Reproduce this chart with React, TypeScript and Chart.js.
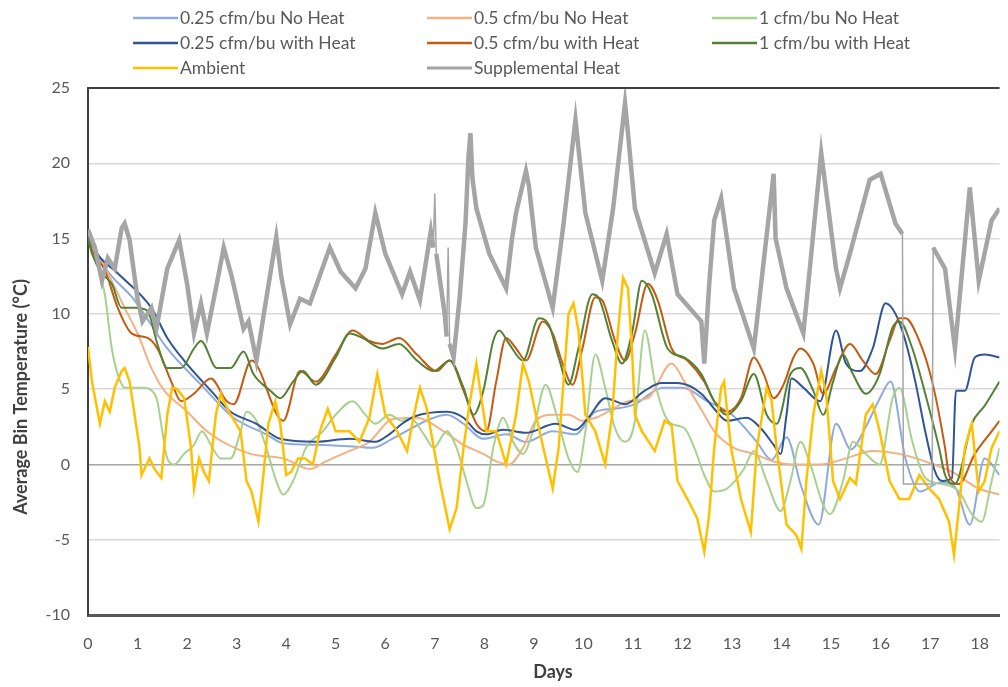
import React, { useEffect, useRef } from 'react';
import { Chart, registerables } from 'chart.js';

Chart.register(...registerables);

type P = [number, number];

const FONT = 'Lato';

const xTickMax = 18.4;
const yMin = -10;
const yMax = 25;

const xTitle = 'Days';
const yTitle = 'Average Bin Temperature (°C)';

const labels = [
  '0.25 cfm/bu No Heat',
  '0.5 cfm/bu No Heat',
  '1 cfm/bu No Heat',
  '0.25 cfm/bu with Heat',
  '0.5 cfm/bu with Heat',
  '1 cfm/bu with Heat',
  'Ambient',
  'Supplemental Heat',
];

const colors = ['#8FAADC', '#F4B183', '#A9D18E', '#2F5597', '#C55A11', '#548235', '#FFC000', '#A5A5A5'];

const noHeat025: P[] = [
  [0, 15.3], [0.34, 13.1], [0.94, 10.9], [1.6, 7.7], [2.28, 5.3], [2.94, 3.1], [3.6, 2], [3.94, 1.4],
  [4.6, 1.3], [5.28, 1.2], [5.74, 1.1], [6.14, 1.7], [6.9, 3], [7.24, 3.3], [7.58, 2.7], [7.98, 1.7],
  [8.44, 2], [8.84, 1.5], [9.38, 2.2], [9.84, 2], [10.24, 3.5], [10.64, 3.7], [11.04, 4], [11.44, 4.9],
  [11.6, 5.1], [12.0, 5.1], [12.5, 4.2], [13.0, 3.3], [13.5, 1.5], [13.8, 0.3], [14.1, 1.8], [14.4, -1.5],
  [14.75, -4], [15.1, 2.7], [15.4, 1], [15.7, 2.5], [16.0, 4.5], [16.2, 5.5], [16.5, 0.4], [16.8, -1.8],
  [17.2, -1.2], [17.5, -1.5], [17.8, -4], [18.1, 0.4], [18.4, -0.7],
];

const noHeat05: P[] = [
  [0, 15], [0.34, 13.1], [0.74, 10.4], [1.0, 8.7], [1.28, 6.4], [1.54, 4.9], [1.94, 3.7], [2.48, 2],
  [3.28, 0.7], [3.94, 0.4], [4.48, -0.3], [4.8, 0.2], [5.28, 0.9], [5.68, 1.5], [6.14, 3.0], [6.64, 3.1],
  [7.18, 2.2], [7.58, 1.3], [7.98, 0.7], [8.24, 0.2], [8.5, 0], [8.78, 1.1], [9.04, 2.9], [9.38, 3.3],
  [9.7, 3.3], [9.98, 2.9], [10.24, 3.1], [10.5, 3.5], [10.9, 4.2], [11.3, 4.4], [11.78, 6.7], [12.04, 5.5],
  [12.44, 3.3], [12.64, 2.2], [13.04, 1.1], [13.44, 0.7], [13.84, 0.2], [14.24, 0], [14.78, 0], [15.3, 0.4],
  [15.84, 0.9], [16.38, 0.7], [16.9, 0.2], [17.44, -0.5], [17.98, -1.6], [18.4, -2],
];

const noHeat1: P[] = [
  [0, 15], [0.14, 14], [0.34, 11.3], [0.48, 7.7], [0.6, 6], [0.74, 5.1], [1.14, 5.1], [1.34, 4.7],
  [1.4, 4.2], [1.5, 2.2], [1.6, 0.4], [1.74, 0], [1.94, 0.7], [2.14, 1.3], [2.3, 2.2], [2.48, 1.3],
  [2.68, 0.4], [2.88, 0.4], [3.08, 2.2], [3.2, 3.5], [3.4, 2.9], [3.6, 1.1], [3.8, -1.1], [3.94, -2],
  [4.14, -1.1], [4.4, 1.1], [4.74, 2.2], [5.0, 3.3], [5.34, 4.2], [5.6, 3.3], [5.8, 2.7], [6.08, 3.3],
  [6.34, 2.9], [6.5, 3.1], [6.78, 2], [6.98, 1.1], [7.24, 2.2], [7.44, 1.1], [7.64, -1.1], [7.84, -2.9],
  [7.98, -2.7], [8.18, 1.1], [8.38, 3.1], [8.58, 1.5], [8.78, 0.7], [8.98, 2.2], [9.24, 5.3], [9.44, 3.5],
  [9.7, 0.4], [9.88, -0.5], [10.04, 2.2], [10.24, 7.3], [10.44, 5.1], [10.64, 2.4], [10.84, 1.5], [11.04, 2.9],
  [11.24, 8.9], [11.44, 5.5], [11.64, 3.3], [11.78, 2.7], [12.04, 2.4], [12.24, 1.1], [12.44, -0.7], [12.64, -1.8],
  [12.9, -1.6], [13.24, -0.3], [13.44, 0.9], [13.7, -1.1], [13.98, -3.1], [14.18, -1.1], [14.38, 1.5], [14.58, 0],
  [14.84, -2.7], [14.98, -3.3], [15.24, -1.1], [15.44, 1.5], [15.7, 0.7], [15.98, 0], [16.24, 4.4], [16.38, 5.1],
  [16.64, 1.5], [16.9, -0.9], [17.24, -1.3], [17.58, -1.8], [17.84, -3.3], [18.04, -3.8], [18.24, -1.1], [18.4, 1.1],
];

const heat025: P[] = [
  [0, 15.3], [0.14, 14.2], [0.6, 12.7], [1.28, 10.4], [1.6, 8.4], [1.94, 6.9], [2.48, 4.9], [2.88, 3.5],
  [3.4, 2.7], [3.88, 1.7], [4.6, 1.5], [5.28, 1.7], [5.8, 1.5], [6.08, 2], [6.34, 2.7], [6.6, 3.2],
  [7.24, 3.5], [7.58, 3.1], [7.84, 2.2], [8.04, 2], [8.38, 2.3], [8.84, 2.1], [9.44, 2.7], [9.84, 2.3],
  [10.1, 3.1], [10.44, 4.4], [10.84, 4], [11.24, 4.9], [11.58, 5.4], [11.9, 5.4], [12.38, 4.7], [12.64, 3.7],
  [12.9, 2.9], [13.3, 3.1], [13.58, 2.4], [13.84, 1.3], [13.98, 0.7], [14.1, 3.3], [14.2, 5.7], [14.44, 5.1],
  [14.78, 4.2], [15.1, 8.9], [15.3, 6.7], [15.58, 6.2], [15.84, 7.7], [16.1, 10.7], [16.3, 10], [16.5, 8.2],
  [16.7, 5.5], [16.9, 2.2], [17.1, -0.5], [17.24, -1.1], [17.44, -0.9], [17.52, 4.9], [17.7, 4.9], [17.9, 7.1],
  [18.1, 7.3], [18.4, 7.1],
];

const heat05: P[] = [
  [0, 15], [0.08, 14.2], [0.34, 12.9], [0.6, 10.4], [0.88, 8.7], [1.2, 8.4], [1.4, 7.7], [1.68, 5.5],
  [1.88, 4.2], [2.14, 4.7], [2.48, 5.7], [2.8, 4.2], [2.94, 4], [3.3, 6.9], [3.94, 2.9], [4.28, 6.2],
  [4.6, 5.5], [5.0, 7.3], [5.34, 8.9], [5.68, 8.2], [5.94, 8], [6.28, 8.4], [6.64, 7.3], [7.04, 6.2],
  [7.3, 6.9], [7.58, 4.9], [7.84, 2.7], [8.04, 2.2], [8.24, 5.5], [8.44, 8.4], [8.64, 7.7], [8.84, 6.9],
  [9.18, 9.5], [9.38, 8.7], [9.58, 6.7], [9.78, 5.3], [9.98, 7.7], [10.24, 11.1], [10.38, 10.9], [10.64, 8.2],
  [10.84, 6.9], [11.04, 8.7], [11.3, 12], [11.5, 10.9], [11.78, 7.7], [12.1, 6.9], [12.44, 5.5], [12.64, 4.2],
  [12.9, 3.5], [13.18, 4.4], [13.44, 7.1], [13.64, 6], [13.84, 4.4], [14.04, 5.3], [14.24, 7.1], [14.38, 7.7],
  [14.64, 6.7], [14.84, 4.7], [15.1, 6.4], [15.38, 8], [15.64, 6.9], [15.9, 6], [16.18, 8.2], [16.38, 9.7],
  [16.5, 9.7], [16.78, 8.2], [17.04, 5.5], [17.3, 1.1], [17.38, -0.7], [17.58, -1.3], [17.9, 0.7], [18.24, 2.2],
  [18.4, 2.9],
];

const heat1: P[] = [
  [0, 15], [0.08, 14], [0.28, 12.7], [0.48, 12], [0.68, 10.4], [0.94, 10.4], [1.2, 10.2], [1.4, 8],
  [1.6, 6.4], [1.88, 6.4], [2.14, 7.7], [2.28, 8.2], [2.6, 6.4], [2.88, 6.4], [3.14, 7.5], [3.34, 6],
  [3.68, 4.9], [3.88, 4.4], [4.14, 5.5], [4.34, 6.2], [4.6, 5.3], [5.0, 7.1], [5.28, 8.7], [5.54, 8.4],
  [5.94, 7.7], [6.28, 8], [6.64, 6.9], [6.98, 6.2], [7.3, 6.9], [7.58, 5.1], [7.78, 3.3], [7.98, 4.9],
  [8.18, 8.2], [8.3, 8.9], [8.5, 8], [8.78, 6.9], [9.1, 9.7], [9.3, 9.3], [9.5, 7.1], [9.7, 5.3],
  [9.9, 7.7], [10.18, 11.3], [10.3, 11.1], [10.58, 8.2], [10.78, 6.7], [10.98, 8.7], [11.18, 12.2], [11.38, 11.3],
  [11.7, 7.7], [12.04, 7.1], [12.38, 6], [12.64, 4.2], [12.9, 3.3], [13.18, 4.2], [13.44, 6], [13.7, 3.3],
  [13.9, 2.7], [14.18, 6], [14.38, 6.4], [14.64, 4.9], [14.84, 3.3], [15.04, 5.5], [15.24, 7.3], [15.44, 6],
  [15.7, 4.7], [15.98, 6], [16.24, 9.1], [16.38, 9.5], [16.64, 7.7], [16.9, 4.7], [17.18, 1.1], [17.3, -0.7],
  [17.5, -1.3], [17.84, 2.7], [18.1, 3.9], [18.4, 5.5],
];

const ambient: P[] = [
  [0, 7.8], [0.08, 5.5], [0.24, 2.7], [0.34, 4.2], [0.44, 3.5], [0.54, 5.1], [0.68, 6.2], [0.74, 6.4],
  [0.84, 5.5], [0.94, 3.3], [1.04, 1.1], [1.08, -0.7], [1.24, 0.4], [1.34, -0.3], [1.48, -0.9], [1.6, 3.3],
  [1.7, 5.1], [1.8, 5.0], [1.94, 4.4], [2.08, 1.1], [2.14, -1.6], [2.24, 0.4], [2.34, -0.5], [2.44, -1.1],
  [2.58, 3.3], [2.68, 4.7], [2.74, 4.2], [2.88, 3.3], [3.08, 2.2], [3.2, -1.1], [3.3, -1.8], [3.44, -3.8],
  [3.54, -0.7], [3.64, 2.7], [3.78, 4.2], [3.88, 2.7], [4.0, -0.7], [4.1, -0.5], [4.24, 0.4], [4.38, 0.4],
  [4.54, 0], [4.68, 2.2], [4.84, 3.7], [5.0, 2.2], [5.28, 2.2], [5.48, 1.5], [5.68, 3.1], [5.8, 5.3],
  [5.84, 6], [6.0, 3.3], [6.2, 2.4], [6.24, 2.2], [6.44, 0.9], [6.58, 3.3], [6.7, 5.1], [6.84, 3.7],
  [7.1, -1.1], [7.3, -4.3], [7.44, -2.9], [7.58, 1.1], [7.7, 4], [7.84, 6.7], [7.94, 4.4], [8.04, 2.2],
  [8.24, 2.2], [8.44, 0], [8.64, 3.3], [8.78, 6.7], [8.9, 5.5], [9.04, 3.3], [9.24, 0.4], [9.38, -1.6],
  [9.5, 1.1], [9.7, 10], [9.8, 10.7], [9.9, 8.9], [10.04, 3.3], [10.24, 2.2], [10.44, 0], [10.58, 3.3],
  [10.7, 8.9], [10.8, 12.4], [10.9, 11.7], [10.98, 7.7], [11.04, 3.3], [11.18, 2.2], [11.44, 0.9], [11.64, 2.9],
  [11.78, 2.6], [11.9, -1.1], [12.1, -2.3], [12.3, -3.6], [12.44, -5.8], [12.54, -3.3], [12.64, 1.1], [12.78, 5.1],
  [12.84, 5.5], [12.98, 1.1], [13.18, -2.3], [13.38, -4.5], [13.5, 1.1], [13.7, 5.1], [13.8, 4.2], [13.9, 1.1],
  [14.1, -4], [14.3, -4.7], [14.4, -5.6], [14.5, -1.1], [14.64, 3.3], [14.8, 6.2], [14.9, 4.7], [15.04, -1.1],
  [15.18, -2.3], [15.38, -0.9], [15.5, -1.3], [15.7, 3.3], [15.84, 4], [15.98, 2.2], [16.18, -1.1], [16.38, -2.3],
  [16.58, -2.3], [16.78, -0.7], [16.98, -1.6], [17.18, -2.3], [17.38, -3.8], [17.48, -6], [17.58, -2.9], [17.7, 1.1],
  [17.84, 2.7], [17.98, -1.8], [18.1, -1.1], [18.24, 1.1], [18.4, 2.2],
];

const supplemental: P[] = [
  [0, 15.6], [0.14, 14.4], [0.28, 12.2], [0.4, 13.7], [0.54, 13], [0.68, 15.7], [0.74, 16], [0.84, 14.9],
  [1.0, 11], [1.1, 9.5], [1.28, 10.4], [1.38, 9], [1.6, 13], [1.84, 14.9], [2.0, 12], [2.14, 8.7],
  [2.28, 10.7], [2.4, 8.7], [2.6, 12], [2.74, 14.4], [2.9, 12.5], [3.14, 9], [3.24, 9.5], [3.4, 6.9],
  [3.54, 9.8], [3.8, 15.1], [3.9, 12.5], [4.08, 9.3], [4.28, 11], [4.48, 10.7], [4.88, 14.4], [5.1, 12.8],
  [5.4, 11.7], [5.6, 13], [5.8, 16.7], [6.0, 14], [6.34, 11.3], [6.5, 12.8], [6.7, 10.9], [6.92, 15.5],
  [6.97, 14.4], [7.0, 18], [7.03, 14], [7.2, 10], [7.24, 8.5], [7.27, 14.4], [7.3, 8], [7.38, 7.1],
  [7.5, 11], [7.62, 16], [7.68, 20.4], [7.72, 22], [7.76, 19], [7.84, 17], [8.1, 14], [8.44, 11.7],
  [8.56, 15], [8.64, 16.7], [8.84, 19.5], [8.9, 18.5], [9.04, 14.4], [9.38, 10.4], [9.6, 16], [9.84, 22.9],
  [9.9, 21], [10.04, 16.7], [10.38, 12.2], [10.6, 17], [10.84, 24], [10.9, 22], [11.04, 17], [11.44, 12.7],
  [11.68, 15.3], [11.9, 11.3], [12.38, 9.5], [12.44, 6.7], [12.54, 12], [12.64, 16.2], [12.78, 17.7], [13.04, 11.7],
  [13.44, 7.7], [13.84, 19.3], [13.88, 15], [14.1, 11.7], [14.44, 8.7], [14.6, 14], [14.8, 20.7], [15.1, 13],
  [15.18, 11.7], [15.38, 14], [15.78, 18.9], [16.0, 19.3], [16.3, 16], [16.44, 15.3], [16.46, -1.3], [17.04, -1.3],
  [17.06, 14.4], [17.3, 13], [17.5, 7.7], [17.8, 18.4], [17.98, 12.2], [18.24, 16.2], [18.4, 17],
];

// day ranges in which the supplemental heat trace is a single thin sample line
const thinSupplementalSpans: P[] = [[6.96, 7.04], [7.23, 7.31], [16.43, 17.07]];

const seriesData: P[][] = [noHeat025, noHeat05, noHeat1, heat025, heat05, heat1, ambient, supplemental];

const decorPlugin = {
  id: 'frameLegend',
  afterDraw(chart: any) {
    const { ctx, chartArea } = chart;
    ctx.save();
    ctx.strokeStyle = '#404040';
    ctx.lineWidth = 2;
    ctx.beginPath();
    ctx.moveTo(chartArea.left, chartArea.top);
    ctx.lineTo(chartArea.right, chartArea.top);
    ctx.stroke();

    ctx.fillStyle = '#404040';
    ctx.font = `bold 18px ${FONT}`;
    ctx.textAlign = 'center';
    ctx.textBaseline = 'middle';
    ctx.fillText(xTitle, 553, 672);
    ctx.save();
    ctx.translate(21, 397);
    ctx.rotate(-Math.PI / 2);
    ctx.fillText(yTitle, 0, 0);
    ctx.restore();

    const cols = [133, 427, 712];
    const rows = [18, 43, 68];
    ctx.font = `17.5px ${FONT}`;
    ctx.textBaseline = 'middle';
    ctx.textAlign = 'left';
    labels.forEach((lab, i) => {
      const cx = cols[i % 3];
      const cy = rows[Math.floor(i / 3)];
      ctx.strokeStyle = colors[i];
      ctx.lineWidth = i === 7 ? 3 : 2.5;
      ctx.beginPath();
      ctx.moveTo(cx, cy);
      ctx.lineTo(cx + 45, cy);
      ctx.stroke();
      ctx.fillStyle = '#595959';
      ctx.fillText(lab, cx + 47, cy);
    });
    ctx.restore();
  },
};

export default function App() {
  const ref = useRef<HTMLCanvasElement>(null);
  useEffect(() => {
    const drawOrder = [7, 6, 5, 4, 3, 2, 1, 0];
    const datasets = seriesData.map((arr, i) => {
      const smooth = i < 6;
      const isSupp = i === 7;
      const baseWidth = isSupp ? 4.5 : i === 6 ? 2.5 : 2;
      return {
        label: labels[i],
        data: arr.map(([x, y]) => ({ x, y })),
        borderColor: colors[i],
        backgroundColor: colors[i],
        borderWidth: baseWidth,
        pointRadius: 0,
        fill: false,
        tension: smooth ? 0.4 : 0,
        cubicInterpolationMode: smooth ? ('monotone' as const) : ('default' as const),
        order: drawOrder[i],
        segment: isSupp
          ? {
              borderWidth: (c: any) => {
                const a = c.p0.parsed.x;
                const b = c.p1.parsed.x;
                return thinSupplementalSpans.some(([s, e]) => a >= s && b <= e) ? 1.5 : baseWidth;
              },
            }
          : undefined,
      };
    });
    const chart = new Chart(ref.current!, {
      type: 'line',
      data: { datasets },
      options: {
        animation: false,
        responsive: false,
        events: [],
        layout: { padding: { top: 88, right: 0, left: 0, bottom: 0 } },
        plugins: { legend: { display: false }, tooltip: { enabled: false } },
        scales: {
          x: {
            type: 'linear',
            min: 0,
            max: xTickMax,
            ticks: {
              stepSize: 1,
              includeBounds: false,
              color: '#595959',
              font: { family: FONT, size: 16 },
              padding: 19,
              maxRotation: 0,
            },
            grid: { display: false, drawTicks: false },
            border: { display: true, color: '#595959', width: 3 },
            afterFit: (s: any) => {
              s.height = 72;
            },
          },
          y: {
            type: 'linear',
            min: yMin,
            max: yMax,
            ticks: {
              stepSize: 5,
              color: '#595959',
              font: { family: FONT, size: 16 },
              padding: 18,
            },
            grid: {
              color: (c: any) => (c.tick && c.tick.value === 0 ? '#A6A6A6' : '#D9D9D9'),
              lineWidth: 1.5,
              drawTicks: false,
            },
            border: { display: true, color: '#404040', width: 2 },
            afterFit: (s: any) => {
              s.width = 88;
            },
          },
        },
      },
      plugins: [decorPlugin],
    });
    return () => chart.destroy();
  }, []);
  return (
    <div style={{ position: 'fixed', left: 0, top: 0, width: 1008, height: 687, background: '#fff' }}>
      <canvas ref={ref} width={1008} height={687} style={{ display: 'block' }} />
    </div>
  );
}
